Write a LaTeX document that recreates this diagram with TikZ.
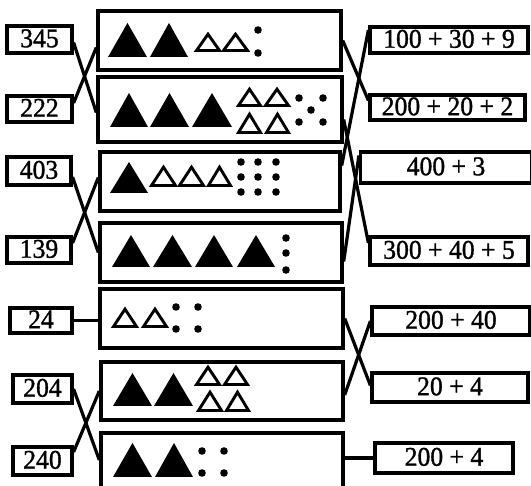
\documentclass[tikz,border=0pt]{standalone}
\usepackage{fontspec}
\newfontfamily\numfont[FakeStretch=0.95,FakeBold=1.2]{Liberation Serif}
\usetikzlibrary{calc}
\newcommand\filltri[4]{\fill (#1,#4) -- (#2,#4) -- ({(#1+#2)/2},#3) -- cycle;}
\newcommand\opentri[4]{\draw[opentri] ({#1+1.5},{#4-1.5}) -- ({#2-1.5},{#4-1.5}) -- ({(#1+#2)/2},{#3+2.2}) -- cycle;}
\newcommand\blob[2]{\fill (#1,#2) circle (3.8pt);}
\begin{document}
\begin{tikzpicture}[x=1pt,y=-1pt,
  numbox/.style={draw,line width=3.2pt,inner sep=0pt,text height=15.5pt,text depth=0pt,font=\numfont\fontsize{27}{27}\selectfont},
  bigbox/.style={draw,line width=3.4pt,inner sep=0pt},
  link/.style={line width=3.2pt},
  opentri/.style={line width=2.9pt,line join=miter}]
\useasboundingbox (0,0) rectangle (531,486);
% left number boxes
\node[numbox,minimum width=65pt,minimum height=27pt] (n345) at (39.5,39.5) {345};
\node[numbox,minimum width=65pt,minimum height=26pt] (n222) at (39.5,109) {222};
\node[numbox,minimum width=64pt,minimum height=28pt] (n403) at (39,171) {403};
\node[numbox,minimum width=64pt,minimum height=26pt] (n139) at (39,250) {139};
\node[numbox,minimum width=62pt,minimum height=25pt] (n24) at (41,320.5) {24};
\node[numbox,minimum width=59pt,minimum height=28pt] (n204) at (42.5,389) {204};
\node[numbox,minimum width=59pt,minimum height=28pt] (n240) at (42.5,461) {240};
% middle picture boxes
\node[bigbox,minimum width=243pt,minimum height=59pt] (b1) at (219.5,40.5) {};
\node[bigbox,minimum width=244pt,minimum height=65pt] (b2) at (220,109.5) {};
\node[bigbox,minimum width=240pt,minimum height=59pt] (b3) at (220,181.5) {};
\node[bigbox,minimum width=242pt,minimum height=59pt] (b4) at (221,252.5) {};
\node[bigbox,minimum width=243pt,minimum height=59pt] (b5) at (221.5,318.5) {};
\node[bigbox,minimum width=242pt,minimum height=58pt] (b6) at (222,391) {};
\node[bigbox,minimum width=242pt,minimum height=60pt] (b7) at (222,463) {};
% right sum boxes
\node[numbox,minimum width=158pt,minimum height=26pt] (r1) at (449,40) {100 + 30 + 9};
\node[numbox,minimum width=155pt,minimum height=25pt] (r2) at (447.5,107.5) {200 + 20 + 2};
\node[numbox,minimum width=171pt,minimum height=31pt] (r3) at (446,167.5) {400 + 3};
\node[numbox,minimum width=158pt,minimum height=28pt] (r4) at (449,251) {300 + 40 + 5};
\node[numbox,minimum width=158pt,minimum height=28pt] (r5) at (451,321) {200 + 40};
\node[numbox,minimum width=156pt,minimum height=29pt] (r6) at (450,387.5) {20 + 4};
\node[numbox,minimum width=138pt,minimum height=30pt] (r7) at (444,458) {200 + 4};
% left connectors
\draw[link] ([yshift=-3pt]n345.east) -- ([yshift=-3pt]b2.west);
\draw[link] ([yshift=6pt]n222.east) -- ([yshift=-7pt]b1.west);
\draw[link] ([yshift=-6pt]n403.east) -- (b4.west);
\draw[link] ([yshift=7pt]n139.east) -- ([yshift=4pt]b3.west);
\draw[link] (n24.east) -- (n24.east -| b5.west);
\draw[link] (n204.east) -- ([yshift=3pt]b7.west);
\draw[link] ([yshift=9pt]n240.east) -- (b6.west);
% right connectors
\draw[link] (b1.east) -- ([yshift=7pt]r2.west);
\draw[link] ([yshift=10pt]r1.west) -- ([yshift=16pt]b3.east);
\draw[link] ([yshift=-10pt]b2.east) -- ([yshift=8pt]r4.west);
\draw[link] ([yshift=-9pt]b4.east) -- ([yshift=12pt]r3.west);
\draw[link] (b5.east) -- ([yshift=2pt]r6.west);
\draw[link] ([yshift=-4pt]b6.east) -- (r5.west);
\draw[link] (r7.west -| b7.east) -- (r7.west);
% box 1: 222
\filltri{108}{147}{23}{57}\filltri{150}{188}{23}{57}
\opentri{195}{221}{32}{52}\opentri{222}{249}{32}{52}
\blob{258}{30}\blob{258}{53}
% box 2: 345
\filltri{110}{148}{93}{127}\filltri{150}{189}{93}{127}\filltri{192}{232}{93}{127}
\opentri{237}{262}{87}{107}\opentri{264}{290}{87}{107}
\opentri{237}{262}{112}{134}\opentri{265}{290}{112}{134}
\blob{299}{98}\blob{323}{98}\blob{311}{110}\blob{299}{122}\blob{323}{122}
% box 3: 139
\filltri{110}{148}{162}{193}
\opentri{150}{177}{165}{187}\opentri{178}{205}{165}{187}\opentri{207}{232}{165}{187}
\foreach \xx in {241,258,276}{\foreach \yy in {162,177,192}{\blob{\xx}{\yy}}}
% box 4: 403
\filltri{112}{150}{235}{267}\filltri{153}{192}{235}{267}\filltri{195}{233}{235}{267}\filltri{237}{275}{235}{267}
\blob{286}{238}\blob{286}{253}\blob{286}{270}
% box 5: 24
\opentri{112}{138}{307}{328}\opentri{142}{168}{307}{328}
\blob{176}{307}\blob{198}{307}\blob{176}{329}\blob{198}{329}
% box 6: 240
\filltri{113}{152}{373}{406}\filltri{154}{193}{373}{406}
\opentri{195}{221}{365}{386}\opentri{223}{249}{365}{386}
\opentri{197}{223}{390}{412}\opentri{225}{250}{390}{412}
% box 7: 204
\filltri{113}{152}{443}{477}\filltri{155}{193}{443}{477}
\blob{202}{451}\blob{224}{451}\blob{202}{473}\blob{224}{473}
\end{tikzpicture}
\end{document}
